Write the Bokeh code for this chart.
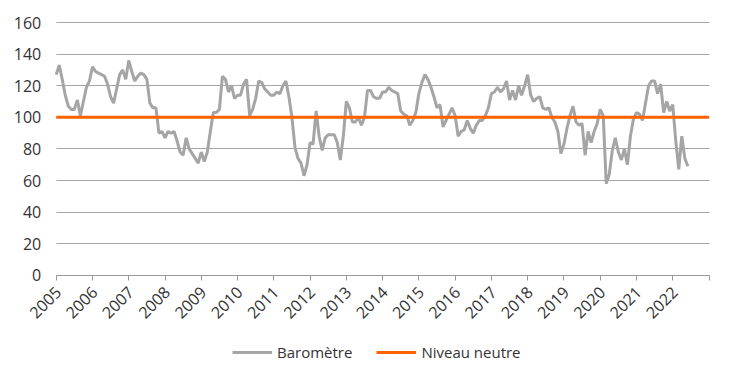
import math
from bokeh.plotting import figure
from bokeh.models import (FixedTicker, Legend, LegendItem, ColumnDataSource,
                          Grid)
from bokeh.core.properties import value
from bokeh.embed import file_html
from bokeh.resources import INLINE

# ---------------- data ----------------
years = [str(y) for y in range(2005, 2023)]
y_ticks = [0, 20, 40, 60, 80, 100, 120, 140, 160]
y_tick_labels = [str(v) for v in y_ticks]
neutral_level = 100

baro_2005 = [127, 133, 124, 114, 107, 105, 105, 111, 101, 110, 119, 123]
baro_2006 = [132, 129, 128, 127, 126, 121, 113, 109, 118, 127, 130, 124]
baro_2007 = [136, 129, 123, 126, 128, 127, 124, 109, 106, 106, 90, 91]
baro_2008 = [87, 91, 90, 91, 85, 78, 76, 87, 80, 77, 74, 71]
baro_2009 = [78, 72, 78, 91, 103, 103, 105, 126, 124, 116, 120, 112]
baro_2010 = [114, 114, 121, 124, 101, 105, 112, 123, 122, 118, 116, 114]
baro_2011 = [114, 116, 115, 120, 123, 113, 100, 81, 74, 71, 63, 70]
baro_2012 = [84, 83, 104, 88, 79, 87, 89, 89, 89, 84, 73, 88]
baro_2013 = [110, 106, 97, 97, 100, 95, 100, 117, 117, 113, 112, 112]
baro_2014 = [116, 116, 119, 117, 116, 115, 104, 102, 101, 95, 98, 103]
baro_2015 = [115, 122, 127, 124, 119, 113, 106, 108, 94, 98, 102, 106]
baro_2016 = [101, 88, 91, 92, 98, 93, 90, 95, 98, 98, 101, 106]
baro_2017 = [115, 116, 119, 116, 118, 123, 111, 117, 111, 120, 114, 120]
baro_2018 = [127, 114, 110, 112, 113, 106, 105, 106, 100, 97, 91, 77]
baro_2019 = [83, 93, 101, 107, 97, 95, 96, 76, 91, 84, 91, 96]
baro_2020 = [105, 101, 58, 64, 79, 87, 78, 73, 80, 70, 88, 99]
baro_2021 = [103, 102, 98, 109, 120, 123, 123, 115, 121, 103, 110, 104]
baro_2022 = [108, 85, 67, 88, 74, 69]

baro = (baro_2005 + baro_2006 + baro_2007 + baro_2008 + baro_2009 + baro_2010 +
        baro_2011 + baro_2012 + baro_2013 + baro_2014 + baro_2015 + baro_2016 +
        baro_2017 + baro_2018 + baro_2019 + baro_2020 + baro_2021 + baro_2022)

months = list(range(len(baro)))  # month index since Jan 2005
tick_pos = [12 * i for i in range(len(years) + 1)]

FONT = "Open Sans"
TXT = "#333333"
GRID = "#A6A6A6"

# ---------------- layout (pixels) ----------------
FRAME_W, FRAME_H = 712, 358
PX_X = 652.8 / (tick_pos[-1] - tick_pos[0])      # px per month
PX_Y = 252.8 / (y_ticks[-1] - y_ticks[0])        # px per unit
LEFT_PAD_PX, TOP_PAD_PX = 47.7, 12.0             # frame edge -> first tick / top tick
x_start = tick_pos[0] - LEFT_PAD_PX / PX_X
x_end = x_start + FRAME_W / PX_X
y_end = y_ticks[-1] + TOP_PAD_PX / PX_Y
y_start = y_end - FRAME_H / PX_Y

p = figure(frame_width=FRAME_W, frame_height=FRAME_H,
           x_range=(x_start, x_end), y_range=(y_start, y_end),
           y_axis_location=None,
           output_backend="svg", toolbar_location=None,
           min_border_left=8, min_border_top=10, min_border_right=8,
           min_border_bottom=0)
p.outline_line_color = None
p.background_fill_color = "white"
p.border_fill_color = "white"
p.xgrid.visible = False
p.ygrid.visible = False

grid = Grid(dimension=1, ticker=FixedTicker(ticks=y_ticks),
            grid_line_color=GRID, grid_line_width=1,
            cross_bounds=(tick_pos[0], tick_pos[-1]))
p.add_layout(grid, "center")

src = ColumnDataSource(dict(x=months, y=baro))
r_baro = p.line("x", "y", source=src, line_color="#A5A5A5", line_width=3)
r_neut = p.line([tick_pos[0], tick_pos[-1]], [neutral_level, neutral_level],
                line_color="#FF6200", line_width=3)

# x axis drawn at y = 0 (labels drawn as text below)
xa = p.xaxis[0]
xa.fixed_location = y_ticks[0]
xa.bounds = (tick_pos[0], tick_pos[-1])
xa.ticker = FixedTicker(ticks=tick_pos)
xa.major_label_text_font_size = "0px"
xa.major_tick_out = 5
xa.major_tick_in = 0
xa.minor_tick_line_color = None
xa.axis_line_color = "#999999"
xa.major_tick_line_color = "#999999"

# year labels (rotated)
p.text(x=tick_pos[:-1], y=[y_ticks[0]] * len(years), text=years,
       angle=math.pi / 4, text_align="right", text_baseline="middle",
       x_offset=2, y_offset=14, text_font=value(FONT),
       text_font_size=value("16px"), text_color=TXT)

# y tick labels
p.text(x=[tick_pos[0]] * len(y_ticks), y=y_ticks, text=y_tick_labels,
       text_align="right", text_baseline="middle", x_offset=-15,
       text_font=value(FONT), text_font_size=value("16px"), text_color=TXT)

legend = Legend(items=[LegendItem(label="Baromètre", renderers=[r_baro]),
                       LegendItem(label="Niveau neutre", renderers=[r_neut])],
                orientation="horizontal", location=(224, 6),
                border_line_color=None, background_fill_alpha=0,
                label_text_font=FONT, label_text_font_size="15px",
                label_text_color=TXT, glyph_width=40, glyph_height=20,
                label_height=20, spacing=24, label_standoff=5,
                margin=0, padding=0)
p.add_layout(legend, "center")

open("out.html", "w").write(file_html(p, INLINE))
